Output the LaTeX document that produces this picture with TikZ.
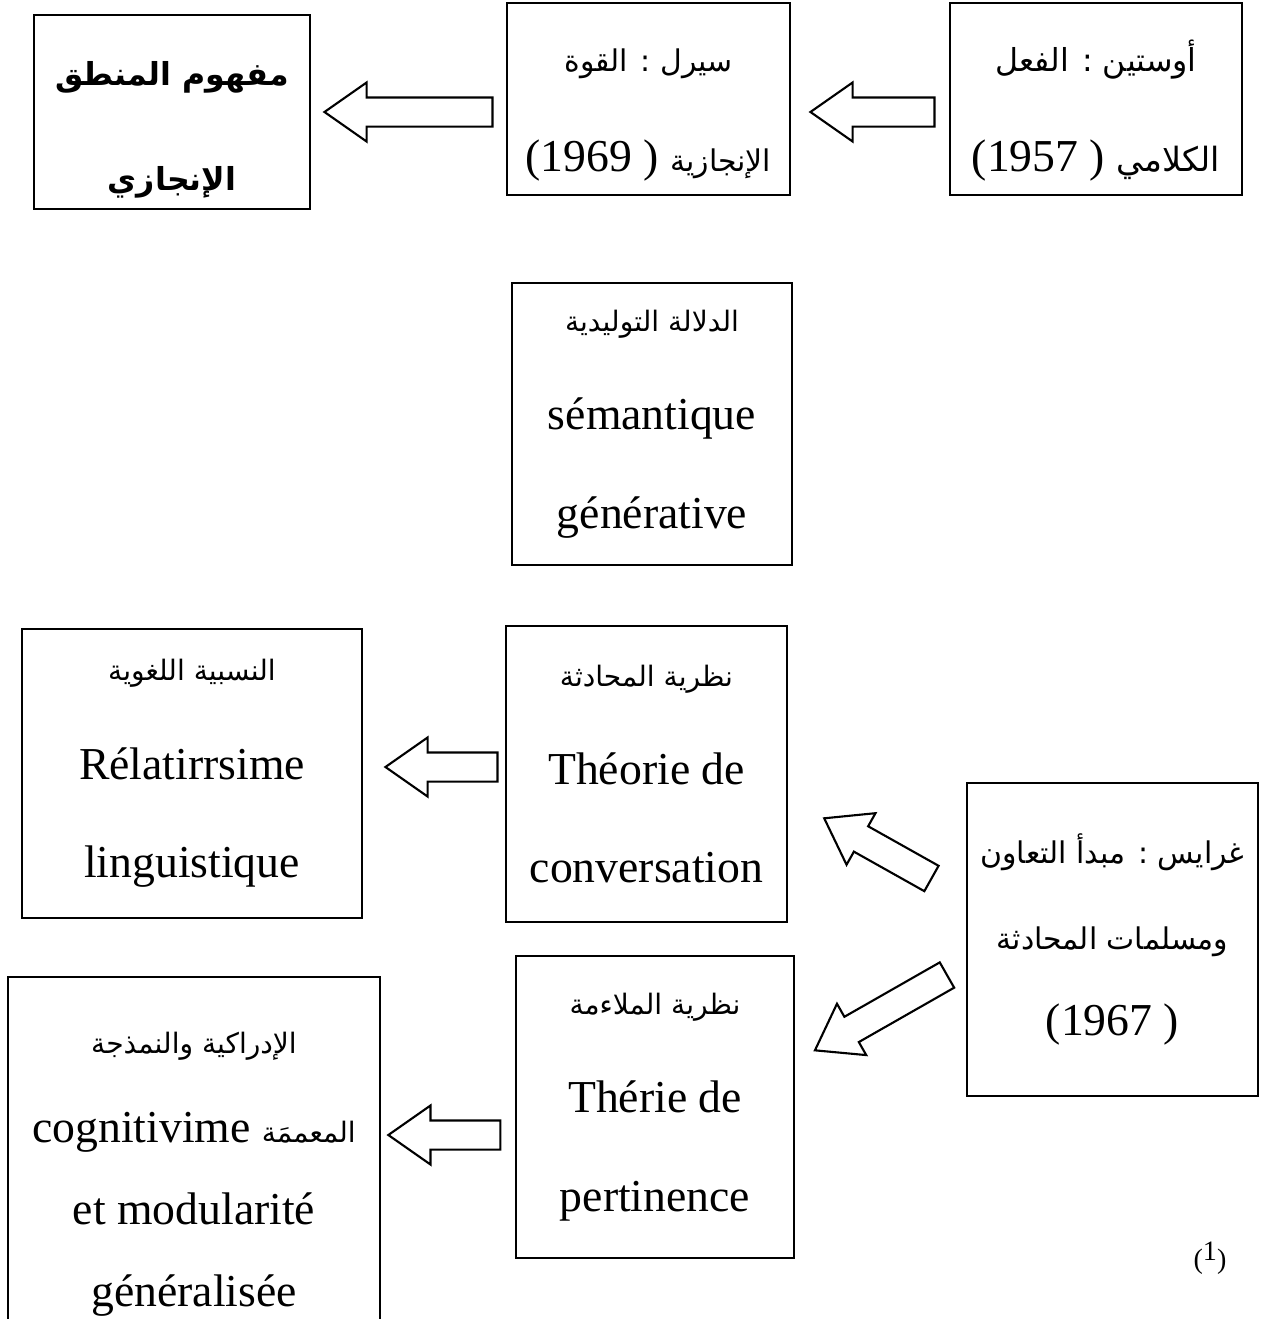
\documentclass[tikz,border=0pt]{standalone}
\usepackage{fontspec}
\setmainfont{Liberation Serif}
\newfontfamily\arfont[Script=Arabic]{DejaVu Sans}
\TeXXeTstate=1
\usetikzlibrary{positioning, calc, shapes.arrows}

\newcommand{\artxt}[2][16]{{\arfont\fontsize{#1}{#1}\selectfont\beginR #2\endR}}
\newcommand{\artxtb}[2][18]{{\arfont\bfseries\fontsize{#1}{#1}\selectfont\beginR #2\endR}}
\newcommand{\topgap}[1]{\rule{0pt}{#1}}

\tikzset{
box/.style = {rectangle, draw, line width = 0.7pt, inner sep = 2pt, align = center,
   font = \fontsize{26}{56}\selectfont},
blockarrow/.style = {single arrow, draw, line width = 1.2pt, inner xsep = 0pt,
   inner ysep = 0.27cm, single arrow head extend = 0.3cm, single arrow tip angle = 70}
}

\begin{document}
\begin{tikzpicture}

\useasboundingbox (0,0) rectangle (25.34,-26.38);
\clip (0,0) rectangle (25.34,-26.38);

%% Top row
\node [box, minimum width = 5.84cm, minimum height = 3.84cm, font = \fontsize{26}{57}\selectfont]
   (austin) at (21.92,-1.98)
   {\topgap{1.1cm}\artxt[18]{أوستين : الفعل}\\ (1957 ) \artxt[19]{الكلامي}};
\node [box, minimum width = 5.66cm, minimum height = 3.84cm, font = \fontsize{26}{57}\selectfont]
   (searle) at (12.97,-1.98)
   {\topgap{1.1cm}\artxt[17]{سيرل : القوة}\\ (1969 ) \artxt[17]{الإنجازية}};
\node [box, minimum width = 5.52cm, minimum height = 3.88cm, font = \fontsize{26}{60}\selectfont]
   (mantiq) at (3.44,-2.24) {\topgap{1.2cm}\artxtb{مفهوم المنطق}\\ \artxtb{الإنجازي}};

\node [blockarrow, minimum height = 2.48cm, shape border rotate = 180, anchor = tip] (a2)
   at ($(searle.east)+(0.36,-0.26)$) {};
\node [blockarrow, minimum height = 3.36cm, shape border rotate = 180, anchor = tip] (a1)
   at ($(mantiq.east)+(0.24,0)$) {};

%% Middle
\node [box, minimum width = 5.6cm, minimum height = 5.64cm] (generative) at (13.04,-8.48)
   {\artxt{الدلالة التوليدية}\\ sémantique\\ générative};

%% Bottom rows
\node [box, minimum width = 5.62cm, minimum height = 5.92cm] (conversation) at (12.93,-15.48)
   {\artxt{نظرية المحادثة}\\ Théorie de\\ conversation};
\node [box, minimum width = 6.8cm, minimum height = 5.78cm] (relativ) at (3.84,-15.47)
   {\artxt{النسبية اللغوية}\\ Rélatirrsime\\ linguistique};
\node [box, minimum width = 5.82cm, minimum height = 6.26cm, font = \fontsize{26}{49}\selectfont]
   (grice) at (22.25,-18.79)
   {\artxt[17]{غرايس : مبدأ التعاون}\\ \artxt[17]{ومسلمات المحادثة}\\ (1967 )};
\node [box, minimum width = 5.56cm, minimum height = 6.04cm] (pertinence) at (13.10,-22.14)
   {\artxt{نظرية الملاءمة}\\ Thérie de\\ pertinence};
\node [box, minimum width = 7.44cm, minimum height = 7.56cm, font = \fontsize{26}{46.5}\selectfont]
   (cognitiv) at (3.88,-23.32)
   {\topgap{0.75cm}\artxt{الإدراكية والنمذجة}\\[0.15cm] cognitivime \artxt{المعممَة}\\ et modularité\\ généralisée};

\node [blockarrow, minimum height = 2.24cm, shape border rotate = 180, anchor = tip] (a3)
   at ($(relativ.east)+(0.42,0.13)$) {};
\node [blockarrow, minimum height = 2.24cm, shape border rotate = 180, anchor = tail] (a4)
   at ($(pertinence.west)+(-0.28,-0.56)$) {};
\node [blockarrow, minimum height = 2.46cm, rotate = 150.7, anchor = tail] (a5)
   at ($(grice.west)+(-0.68,1.21)$) {};
\node [blockarrow, minimum height = 3.04cm, rotate = 209.7, anchor = tail] (a6)
   at ($(grice.west)+(-0.37,-0.70)$) {};

%% Footnote mark
\node [font = \fontsize{16}{18}\selectfont] (note) at (24.2,-25.16) {(\raisebox{0.3em}{1})};

\end{tikzpicture}
\end{document}
